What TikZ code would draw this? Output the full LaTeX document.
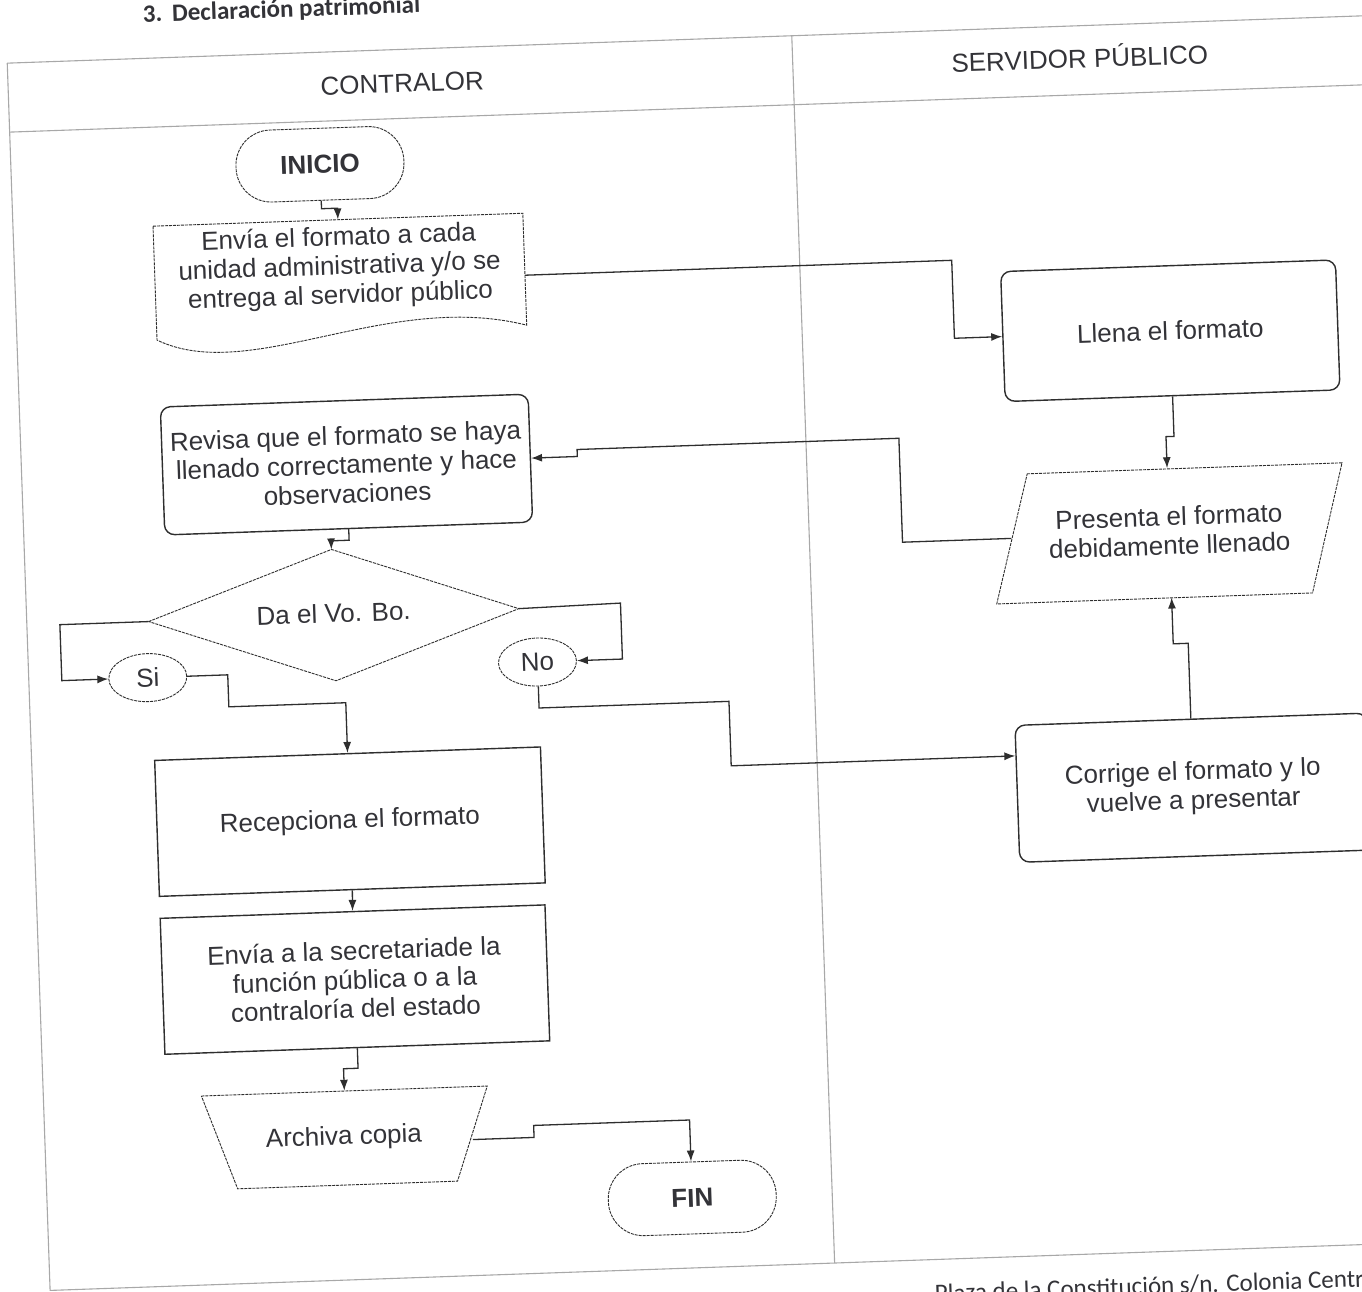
\documentclass[tikz,border=0pt]{standalone}
\usepackage{fontspec}
\setmainfont{Liberation Sans}
\newfontfamily\calibri{Carlito}
\usetikzlibrary{shapes.geometric,arrows.meta,calc}
\definecolor{ink}{HTML}{2E2E2E}
\definecolor{txtc}{HTML}{333338}
\definecolor{lanec}{HTML}{A8A8A8}
\tikzset{
  lane/.style={draw=lanec, line width=1.1pt},
  txt/.style={text=txtc, font=\fontsize{26}{29}\selectfont, align=center, inner sep=0pt},
  solidbox/.style={draw=ink, line width=1.4pt, rectangle, minimum width=#1},
  softbox/.style={draw=ink, line width=1.4pt, rectangle, rounded corners=10pt},
  dashline/.style={draw=ink, line width=0.9pt, dash pattern=on 3pt off 1pt},
  term/.style={dashline, rectangle, rounded corners=35pt, minimum width=168pt, minimum height=72pt,
     text=txtc, font=\fontsize{26}{29}\selectfont\bfseries},
  oval/.style={dashline, ellipse, minimum width=78pt, minimum height=48pt, inner sep=0pt,
     text=txtc, font=\fontsize{26}{29}\selectfont},
  holder/.style={draw=none, rectangle, inner sep=0pt},
  arr/.style={draw=ink, line width=1.3pt, -{Latex[length=11pt,width=8pt]}},
}
\begin{document}
\begin{tikzpicture}[x=1pt,y=-1pt]
\useasboundingbox (0,0) rectangle (1362,1292);
\clip (0,0) rectangle (1362,1292);
\fill[white] (0,0) rectangle (1362,1292);
\begin{scope}[rotate around={2:(681,646)}, transform shape]
% frame
\draw[lane] (28,40) -- (1420,40);
\draw[lane] (28,109) -- (1420,109);
\draw[lane] (28,40) -- (28,1268) -- (1420,1268);
\draw[lane] (813,40) -- (813,1268);
% title, headers, footer
\node[anchor=west, text=txtc, font=\calibri\fontsize{25}{28}\selectfont\bfseries, inner sep=0pt] (title) at (165,-3) {3.\hspace{0.4em}Declaración patrimonial};
\node[txt] (hcon) at (422,74) {CONTRALOR};
\node[txt] (hser) at (1100,71) {SERVIDOR PÚBLICO};
\node[anchor=west, text=txtc, font=\calibri\fontsize{25}{28}\selectfont, inner sep=0pt] (foot) at (912,1302) {Plaza de la Constitución s/n. Colonia Centro};

% nodes
\node[term] (inicio) at (337,152) {INICIO};
\node[holder, minimum width=370pt, minimum height=114pt] (env) at (353,265) {};
\draw[dashline] (168,208) -- (538,208) -- (538,320) .. controls (400,280) and (260,370) .. (168,322) -- cycle;
\node[txt] (envt) at (353,256) {Envía el formato a cada\\unidad administrativa y/o se\\entrega al servidor público};

\node[softbox, minimum width=335pt, minimum height=130pt, txt] (llena) at (1181,348) {Llena el formato};
\node[softbox, minimum width=368pt, minimum height=128pt, txt] (revisa) at (353,453) {Revisa que el formato se haya\\llenado correctamente y hace\\observaciones};

\node[holder, minimum width=316pt, minimum height=129pt] (presenta) at (1173,550) {};
\draw[dashline] (1033,486) -- (1348,486) -- (1314,615) -- (998,615) -- cycle;
\node[txt] at (1173,548) {Presenta el formato\\debidamente llenado};

\node[holder, minimum width=370pt, minimum height=131pt] (dia) at (335,603) {};
\draw[dashline] (dia.west) -- (dia.north) -- (dia.east) -- (dia.south) -- cycle;
\node[txt] at (335,601) {Da el Vo. Bo.};

\node[oval] (si) at (147,659) {Si};
\node[oval] (no) at (537,657) {No};

\node[solidbox=386pt, minimum height=136pt, txt] (recep) at (344,810) {Recepciona el formato};
\node[solidbox=385pt, minimum height=136pt, txt] (secre) at (343.5,968) {Envía a la secretariade la\\función pública o a la\\contraloría del estado};

\node[holder, minimum width=253pt, minimum height=94pt] (arch) at (329,1126) {};
\draw[dashline] (186,1079) -- (472,1079) -- (439,1173) -- (219,1173) -- cycle;
\node[txt] at (327,1126) {Archiva copia};

\node[term] (fin) at (673,1198) {FIN};
\node[softbox, minimum width=352pt, minimum height=137pt, txt] (corrige) at (1188,805.5) {Corrige el formato y lo\\vuelve a presentar};

% connectors
\draw[arr] (inicio.south) -- ++(0,8) -| (env.north);
\draw[arr] ([yshift=-5pt]env.east) -- (965,270) |- (llena.west);
\draw[arr] (llena.south) -- ++(0,40) -| (presenta.north);
\draw[arr] (presenta.west) -- (906,550) -- (906,446) -- (584,446) |- (revisa.east);
\draw[arr] (revisa.south) -- ++(0,11) -| (dia.north);
\draw[arr] (dia.west) -- (61,603) |- (si.west);
\draw[arr] (si.east) -- (227,659) -- (227,691) -| (recep.north);
\draw[arr] (dia.east) -- (622,601) |- (no.east);
\draw[arr] (no.south) -- (537,703) -- (727,703) |- ([yshift=38pt]corrige.west);
\draw[arr] (corrige.north) -- (1188,661) -| (presenta.south);
\draw[arr] (recep.south) -- (secre.north);
\draw[arr] (secre.south) -- ++(0,20) -| (arch.north);
\draw[arr] ([yshift=-6pt]arch.east) -- (517,1132) -- (517,1120) -| (fin.north);
\end{scope}
\end{tikzpicture}
\end{document}
